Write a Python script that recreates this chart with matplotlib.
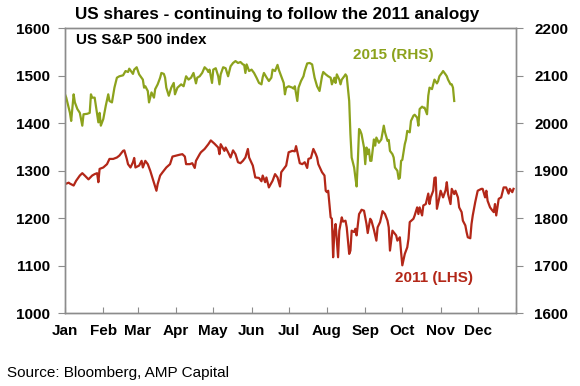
import numpy as np
import matplotlib
matplotlib.use("Agg")
from matplotlib import pyplot as plt

plt.rcParams['font.family'] = ['Liberation Sans', 'DejaVu Sans']

# Month labels and month lengths (day of year axis)
months = ["Jan", "Feb", "Mar", "Apr", "May", "Jun", "Jul", "Aug", "Sep", "Oct", "Nov", "Dec"]
month_days = [31, 28, 31, 30, 31, 30, 31, 31, 30, 31, 30, 31]

# 2011 S&P 500 (LHS), day of year and index level
days_2011 = [0, 3, 4, 7, 9, 12, 14, 16, 19, 22, 24, 26, 27, 28, 31, 34, 36, 39, 42, 44,
             47, 48, 50, 51, 53, 55, 56, 57, 60, 62, 63, 65, 67, 69, 71, 74, 75, 77, 79, 82,
             85, 87, 90, 93, 95, 97, 98, 101, 103, 105, 106, 109, 110, 113, 116, 118, 121, 124, 125, 126,
             129, 130, 132, 134, 136, 138, 140, 142, 144, 146, 148, 149, 152, 154, 157, 159, 160, 162, 163, 165,
             168, 170, 172, 174, 175, 177, 179, 181, 184, 186, 187, 189, 190, 192, 194, 196, 197, 199, 201, 203,
             204, 205, 208, 210, 211, 212, 213, 215, 216, 217, 218, 219, 221, 222, 224, 225, 227, 228, 230, 231,
             232, 234, 235, 236, 238, 239, 240, 242, 244, 245, 247, 248, 250, 252, 253, 255, 257, 259, 261, 262,
             263, 265, 268, 269, 271, 272, 273, 275, 277, 278, 279, 282, 283, 285, 286, 287, 289, 290, 292, 294,
             295, 296, 298, 299, 300, 301, 303, 304, 306, 308, 309, 310, 312, 313, 315, 316, 318, 319, 321, 322,
             324, 325, 326, 328, 329, 330, 332, 334, 337, 338, 340, 341, 342, 344, 346, 347, 348, 349, 351, 353,
             355, 357, 359, 360, 362, 363]
spx_2011 = [1272, 1275, 1273, 1269, 1279, 1290, 1295, 1290, 1282, 1290, 1293, 1295, 1276, 1304, 1307, 1314, 1325, 1325, 1328, 1332,
            1342, 1343, 1325, 1314, 1307, 1318, 1327, 1307, 1311, 1321, 1307, 1321, 1314, 1300, 1283, 1258, 1272, 1290, 1297, 1307,
            1314, 1330, 1332, 1334, 1335, 1330, 1314, 1314, 1316, 1306, 1321, 1335, 1339, 1346, 1356, 1364, 1357, 1349, 1335, 1356,
            1342, 1349, 1339, 1328, 1343, 1335, 1318, 1316, 1321, 1328, 1346, 1328, 1311, 1286, 1285, 1278, 1290, 1276, 1286, 1265,
            1279, 1293, 1286, 1267, 1297, 1304, 1311, 1339, 1342, 1341, 1352, 1328, 1316, 1314, 1318, 1306, 1325, 1327, 1346, 1335,
            1328, 1314, 1297, 1290, 1258, 1255, 1258, 1202, 1199, 1118, 1171, 1188, 1118, 1174, 1202, 1193, 1195, 1181, 1125, 1132,
            1174, 1171, 1178, 1164, 1209, 1213, 1218, 1216, 1188, 1169, 1199, 1195, 1176, 1153, 1181, 1192, 1215, 1209, 1195, 1181,
            1132, 1174, 1164, 1153, 1160, 1129, 1101, 1125, 1139, 1157, 1192, 1199, 1206, 1223, 1209, 1223, 1206, 1227, 1230, 1252,
            1230, 1244, 1258, 1285, 1286, 1220, 1244, 1258, 1244, 1259, 1276, 1251, 1230, 1262, 1251, 1258, 1244, 1223, 1213, 1195,
            1185, 1171, 1160, 1158, 1188, 1206, 1234, 1258, 1262, 1262, 1244, 1258, 1237, 1223, 1216, 1213, 1230, 1206, 1241, 1244,
            1265, 1265, 1252, 1262, 1255, 1262]

# 2015 S&P 500 (RHS)
days_2015 = [0, 1, 4, 5, 7, 8, 10, 12, 14, 15, 18, 20, 21, 22, 24, 26, 27, 28, 29, 31,
             33, 35, 36, 38, 40, 42, 44, 47, 49, 51, 52, 55, 56, 58, 60, 63, 64, 65, 67, 68,
             70, 72, 73, 75, 77, 78, 80, 81, 82, 84, 86, 88, 89, 91, 94, 96, 98, 100, 102, 104,
             106, 107, 109, 111, 113, 115, 116, 117, 119, 120, 122, 124, 125, 126, 128, 130, 132, 134, 136, 138,
             140, 142, 144, 145, 146, 147, 149, 151, 153, 155, 157, 159, 160, 161, 163, 165, 167, 168, 170, 172,
             173, 175, 177, 178, 179, 181, 183, 184, 185, 186, 188, 189, 191, 193, 194, 196, 198, 200, 201, 202,
             204, 206, 208, 209, 211, 213, 215, 216, 218, 219, 220, 222, 223, 224, 226, 227, 228, 230, 231, 232,
             234, 235, 236, 237, 238, 239, 240, 242, 243, 244, 245, 246, 247, 248, 250, 251, 252, 254, 256, 258,
             259, 261, 262, 263, 265, 266, 267, 269, 270, 271, 272, 273, 275, 276, 277, 279, 280, 282, 283, 285,
             286, 287, 289, 290, 291, 293, 294, 295, 297, 298, 299, 301, 302, 303, 305, 306, 308, 309, 310, 312,
             313, 314, 315]
spx_2015 = [2061, 2054, 2022, 2005, 2061, 2044, 2030, 2022, 1995, 2019, 2020, 2022, 2061, 2054, 2054, 2019, 2002, 2022, 1995, 2009,
            2037, 2061, 2047, 2044, 2075, 2096, 2099, 2101, 2110, 2108, 2115, 2104, 2113, 2118, 2103, 2092, 2075, 2078, 2068, 2044,
            2065, 2054, 2072, 2082, 2096, 2106, 2104, 2096, 2075, 2058, 2075, 2085, 2061, 2075, 2082, 2078, 2099, 2092, 2096, 2106,
            2084, 2096, 2099, 2106, 2118, 2113, 2108, 2113, 2085, 2113, 2116, 2099, 2082, 2103, 2118, 2116, 2099, 2120, 2127, 2131,
            2127, 2129, 2124, 2123, 2106, 2124, 2110, 2113, 2106, 2096, 2085, 2082, 2097, 2106, 2097, 2089, 2096, 2113, 2110, 2123,
            2113, 2099, 2085, 2061, 2075, 2078, 2076, 2075, 2073, 2078, 2047, 2075, 2089, 2099, 2110, 2126, 2127, 2124, 2110, 2096,
            2078, 2068, 2099, 2108, 2103, 2099, 2096, 2082, 2096, 2085, 2103, 2092, 2082, 2092, 2099, 2103, 2099, 2047, 1977, 1928,
            1907, 1886, 1867, 1921, 1988, 1984, 1977, 1949, 1914, 1949, 1935, 1945, 1921, 1921, 1966, 1953, 1970, 1959, 1966, 1995,
            1981, 1963, 1965, 1942, 1935, 1928, 1907, 1900, 1883, 1885, 1921, 1923, 1956, 1966, 1984, 1981, 2005, 2016, 2018, 2012,
            1995, 2030, 2035, 2033, 2033, 2019, 2058, 2075, 2072, 2082, 2092, 2084, 2089, 2099, 2106, 2110, 2103, 2099, 2092, 2082,
            2082, 2075, 2047]

green = "#8ca21c"
red = "#b32718"
grey = "#8c8c8c"

fig = plt.figure(figsize=(5.8, 3.86), dpi=100)
ax = fig.add_axes([65 / 580, 1 - 313.3 / 386, 451 / 580, 285 / 386])
ax2 = ax.twinx()

ax.plot(days_2011, spx_2011, color=red, lw=1.6)
ax2.plot(days_2015, spx_2015, color=green, lw=1.6)

ax.set_xlim(0, 365)
ax.set_ylim(1000, 1600)
ax2.set_ylim(1600, 2200)
ax.set_yticks(np.arange(1000, 1601, 100))
ax2.set_yticks(np.arange(1600, 2201, 100))

# month names sit under the tick at the start of each month
starts = np.concatenate([[0], np.cumsum(month_days)])
ax.set_xticks(starts)
ax.set_xticklabels(months + [""], fontsize=11, fontweight="bold")
ax.tick_params(axis="x", direction="in", length=4, color=grey, pad=8)

ax.tick_params(axis="y", direction="out", length=5, color=grey, pad=6, labelsize=11)
ax2.tick_params(axis="y", direction="out", length=5, color=grey, pad=8, labelsize=11)
for lab in ax.get_yticklabels() + ax2.get_yticklabels():
    lab.set_fontweight("bold")

for a in (ax, ax2):
    for s in a.spines.values():
        s.set_color(grey)
        s.set_linewidth(1)

fig.text(75 / 580, 1 - 14 / 386, "US shares - continuing to follow the 2011 analogy",
         fontsize=12.3, fontweight="bold", va="center", ha="left")
fig.text(76 / 580, 1 - 40 / 386, "US S&P 500 index", fontsize=11, fontweight="bold",
         va="center", ha="left")
fig.text(353 / 580, 1 - 55 / 386, "2015 (RHS)", fontsize=11, fontweight="bold",
         color=green, va="center", ha="left")
fig.text(395 / 580, 1 - 278 / 386, "2011 (LHS)", fontsize=11, fontweight="bold",
         color=red, va="center", ha="left")
fig.text(7 / 580, 1 - 373 / 386, "Source: Bloomberg, AMP Capital", fontsize=11,
         va="center", ha="left")

fig.savefig("out.png", dpi=100)
